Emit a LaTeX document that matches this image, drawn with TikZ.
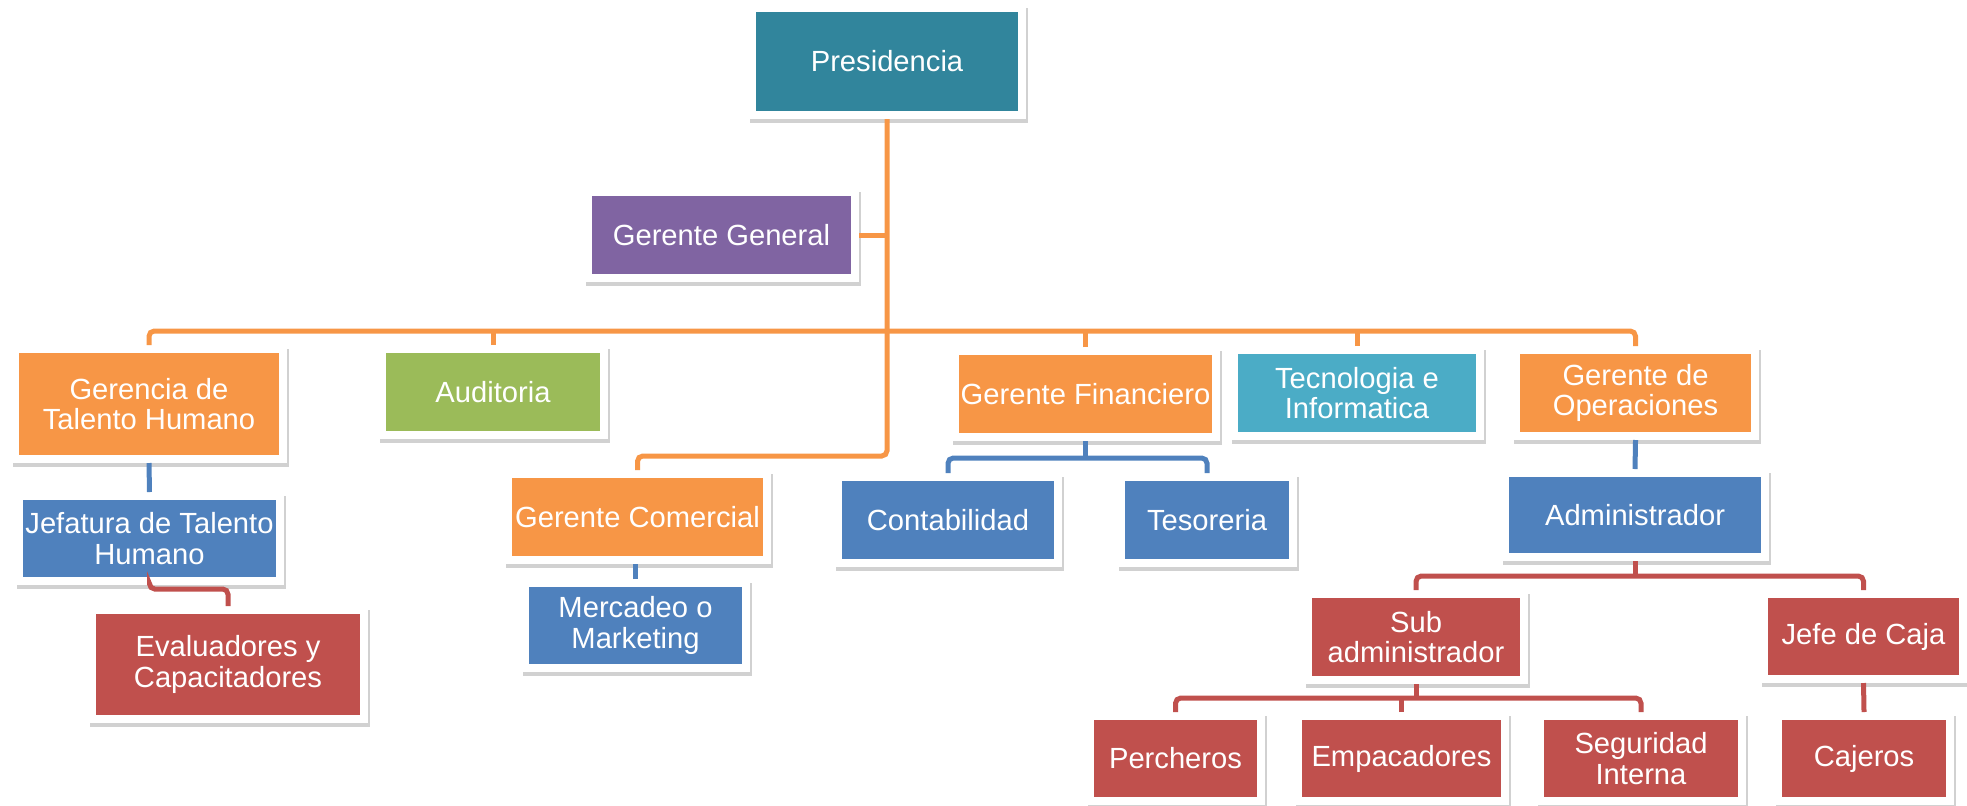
\documentclass[tikz,border=0pt]{standalone}
\usepackage{fontspec}
\setmainfont{Liberation Sans}
\usepackage{xcolor}
\definecolor{orgteal}{RGB}{49,133,156}
\definecolor{orgpurple}{RGB}{128,100,162}
\definecolor{orgorange}{RGB}{247,150,70}
\definecolor{orggreen}{RGB}{155,187,89}
\definecolor{orgcyan}{RGB}{75,172,198}
\definecolor{orgblue}{RGB}{79,129,189}
\definecolor{orgred}{RGB}{192,80,77}
\usetikzlibrary{calc}
\tikzset{
  orgbox/.style={rectangle, fill=#1, draw=white, line width=0.08cm, text=white,
    font=\fontsize{8.3pt}{8.6pt}\selectfont, align=center, inner sep=0pt,
    preaction={draw=black!18, fill=black!18, transform canvas={xshift=0.5pt, yshift=-1.1pt}}},
  orglink/.style={draw=#1, line width=0.05cm, rounded corners=1.5pt}
}

\begin{document}
\begin{tikzpicture}
  \useasboundingbox (0,0) rectangle (19.67,-8.05);

  %--- Top ---
  \node[orgbox=orgteal, minimum width=2.70cm, minimum height=1.07cm] (pres) at (8.87,-0.615) {Presidencia};
  \node[orgbox=orgpurple, minimum width=2.67cm, minimum height=0.86cm] (gergen) at (7.215,-2.35) {Gerente General};

  %--- Second level ---
  \node[orgbox=orgorange, minimum width=2.68cm, minimum height=1.10cm] (talento) at (1.49,-4.04) {Gerencia de\\Talento Humano};
  \node[orgbox=orggreen, minimum width=2.22cm, minimum height=0.86cm] (auditoria) at (4.93,-3.92) {Auditoria};
  \node[orgbox=orgorange, minimum width=2.61cm, minimum height=0.86cm] (financiero) at (10.855,-3.94) {Gerente Financiero};
  \node[orgbox=orgcyan, minimum width=2.46cm, minimum height=0.86cm] (tecno) at (13.57,-3.93) {Tecnologia e\\Informatica};
  \node[orgbox=orgorange, minimum width=2.39cm, minimum height=0.86cm] (operaciones) at (16.355,-3.93) {Gerente de\\Operaciones};
  \node[orgbox=orgorange, minimum width=2.59cm, minimum height=0.86cm] (comercial) at (6.375,-5.17) {Gerente Comercial};

  %--- Third level ---
  \node[orgbox=orgblue, minimum width=2.61cm, minimum height=0.85cm] (jefatura) at (1.495,-5.385) {Jefatura de Talento\\Humano};
  \node[orgbox=orgred, minimum width=2.72cm, minimum height=1.09cm] (evaluadores) at (2.28,-6.645) {Evaluadores y\\Capacitadores};
  \node[orgbox=orgblue, minimum width=2.21cm, minimum height=0.85cm] (mercadeo) at (6.355,-6.255) {Mercadeo o\\Marketing};
  \node[orgbox=orgblue, minimum width=2.20cm, minimum height=0.86cm] (contab) at (9.48,-5.20) {Contabilidad};
  \node[orgbox=orgblue, minimum width=1.72cm, minimum height=0.86cm] (tesoreria) at (12.07,-5.20) {Tesoreria};
  \node[orgbox=orgblue, minimum width=2.60cm, minimum height=0.84cm] (admin) at (16.35,-5.15) {Administrador};

  %--- Operations ---
  \node[orgbox=orgred, minimum width=2.16cm, minimum height=0.86cm] (subadmin) at (14.16,-6.37) {Sub\\administrador};
  \node[orgbox=orgred, minimum width=1.99cm, minimum height=0.85cm] (jefecaja) at (18.635,-6.365) {Jefe de Caja};
  \node[orgbox=orgred, minimum width=1.71cm, minimum height=0.85cm] (percheros) at (11.755,-7.585) {Percheros};
  \node[orgbox=orgred, minimum width=2.07cm, minimum height=0.85cm] (empacadores) at (14.015,-7.585) {Empacadores};
  \node[orgbox=orgred, minimum width=2.02cm, minimum height=0.85cm] (seguridad) at (16.41,-7.585) {Seguridad\\Interna};
  \node[orgbox=orgred, minimum width=1.72cm, minimum height=0.85cm] (cajeros) at (18.64,-7.585) {Cajeros};

  %--- Orange links ---
  \coordinate (trunk) at (8.87,-4.56);
  \coordinate (bus) at (8.87,-3.31);
  \draw[orglink=orgorange] (pres.south) -- (trunk) -| (comercial.north);
  \draw[orglink=orgorange] (gergen.east) -- (gergen.east -| pres.south);
  \draw[orglink=orgorange] (talento.north) |- (bus) -| (operaciones.north);
  \foreach \n in {auditoria, financiero, tecno}
    \draw[orglink=orgorange] (\n.north) -- (\n.north |- bus);

  %--- Blue links ---
  \coordinate (finbus) at (10.855,-4.58);
  \draw[orglink=orgblue] (talento.south) -- (jefatura.north);
  \draw[orglink=orgblue] (mercadeo.north) -- (mercadeo.north |- comercial.south);
  \draw[orglink=orgblue] (contab.north) |- (finbus) -| (tesoreria.north);
  \draw[orglink=orgblue] (financiero.south) -- (finbus);
  \draw[orglink=orgblue] (operaciones.south) -- (admin.north);

  %--- Red links ---
  \coordinate (admbus) at (16.35,-5.76);
  \coordinate (subbus) at (14.16,-6.98);
  \draw[orglink=orgred] (jefatura.south) -- ++(0,-0.04) -| (evaluadores.north);
  \draw[orglink=orgred] (subadmin.north) |- (admbus) -| (jefecaja.north);
  \draw[orglink=orgred] (admin.south) -- (admbus);
  \draw[orglink=orgred] (percheros.north) |- (subbus) -| (seguridad.north);
  \draw[orglink=orgred] (subadmin.south) -- (subbus);
  \draw[orglink=orgred] (empacadores.north) -- (empacadores.north |- subbus);
  \draw[orglink=orgred] (jefecaja.south) -- (cajeros.north);
\end{tikzpicture}
\end{document}
